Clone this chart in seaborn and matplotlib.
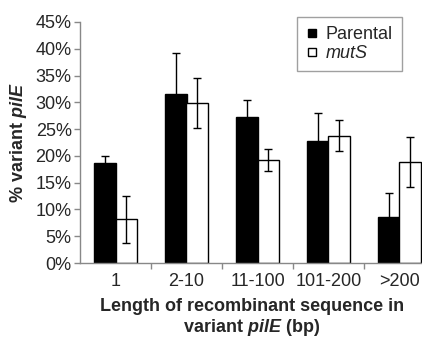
import pandas as pd
import matplotlib.pyplot as plt
import seaborn as sns
from matplotlib.lines import Line2D

# Valores
categorias = ['1', '2-10', '11-100', '101-200', '>200']
parental = [18.6, 31.6, 27.3, 22.7, 8.5]
parental_err = [1.4, 7.6, 3.1, 5.3, 4.6]
mutS = [8.2, 29.9, 19.2, 23.8, 18.8]
mutS_err = [4.4, 4.65, 2.0, 2.95, 4.7]
yticks = [0, 5, 10, 15, 20, 25, 30, 35, 40, 45]

dados = pd.DataFrame({
    'categoria': categorias * 2,
    'valor': parental + mutS,
    'erro': parental_err + mutS_err,
    'grupo': ['Parental'] * 5 + ['mutS'] * 5,
})

sns.set_style('white')
plt.rcParams['font.family'] = ['Liberation Sans', 'DejaVu Sans']
plt.rcParams['mathtext.fontset'] = 'custom'
plt.rcParams['mathtext.it'] = 'Liberation Sans:italic:bold'

fig = plt.figure(figsize=(4.22, 3.42), dpi=100)
ax = fig.add_axes([80 / 422, 79 / 342, 355 / 422, 241 / 342])

sns.barplot(data=dados, x='categoria', y='valor', hue='grupo',
            palette=['black', 'white'], edgecolor='black', linewidth=1,
            width=0.6, errorbar=None, legend=False, ax=ax)

# Barras de erro
for cont, erros in zip(ax.containers, [parental_err, mutS_err]):
    for barra, e in zip(cont, erros):
        ax.errorbar(barra.get_x() + barra.get_width() / 2, barra.get_height(), yerr=e,
                    color='black', capsize=3.2, elinewidth=1, capthick=1)

ax.set_ylim(0, 45)
ax.set_xlim(-0.5, 4.5)
ax.set_yticks(yticks)
ax.set_yticklabels([f'{v}%' for v in yticks], fontsize=13)
ax.set_xticks(range(5))
ax.set_xticklabels(categorias, fontsize=13)
ax.set_xticks([0.5, 1.5, 2.5, 3.5], minor=True)
ax.tick_params(axis='x', which='major', length=0, pad=7)
ax.tick_params(axis='x', which='minor', length=4, color='#888888', width=1, bottom=True)
ax.tick_params(axis='y', length=4, color='#888888', width=1, left=True, pad=2)

for s in ['top', 'right']:
    ax.spines[s].set_visible(False)
for s in ['left', 'bottom']:
    ax.spines[s].set_color('#888888')
    ax.spines[s].set_linewidth(1)

ax.set_ylabel('% variant $\\mathit{pilE}$', fontsize=13, fontweight='bold', labelpad=5)
ax.set_xlabel('Length of recombinant sequence in\nvariant $\\mathit{pilE}$ (bp)',
              fontsize=13, fontweight='bold', linespacing=1.12)
ax.xaxis.set_label_coords((252 - 80) / 355, -0.145)

handles = [Line2D([], [], marker='s', linestyle='', markersize=6,
                  markerfacecolor='black', markeredgecolor='black'),
           Line2D([], [], marker='s', linestyle='', markersize=6,
                  markerfacecolor='white', markeredgecolor='black')]
leg = fig.legend(handles, ['Parental', 'mutS'], loc='upper left',
                 bbox_to_anchor=(297 / 422, 1 - 17 / 342), fontsize=13,
                 frameon=True, fancybox=False, edgecolor='#888888',
                 handlelength=0.7, handletextpad=0.4, labelspacing=0.12,
                 borderpad=0.5, borderaxespad=0)
leg.get_frame().set_linewidth(1)
leg.get_texts()[1].set_style('italic')

fig.savefig('out.png', dpi=100)
